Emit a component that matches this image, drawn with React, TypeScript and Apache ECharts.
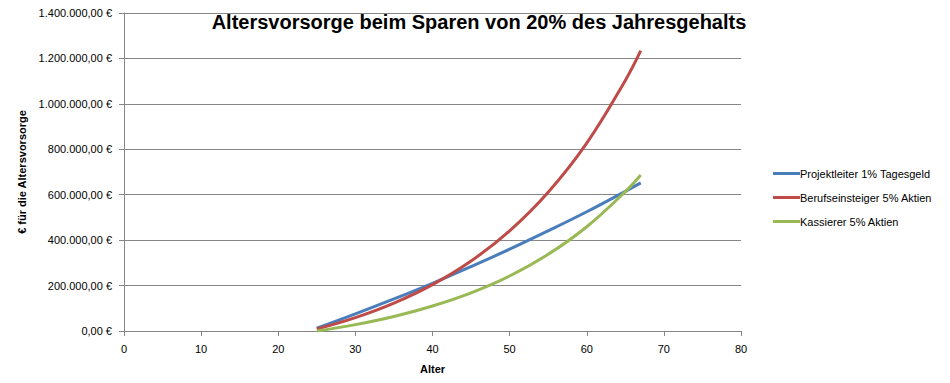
import React, { useEffect, useRef } from "react";
import * as echarts from "echarts";

const ages = [25, 30, 35, 40, 45, 50, 55, 60, 65, 67];
const projektleiter = [12000, 75000, 141000, 210000, 283500, 360000, 441000, 525000, 615000, 652000];
const berufseinsteiger = [8600, 58700, 122600, 204000, 308000, 441000, 611000, 827000, 1103000, 1234000];
const kassierer = [0, 28000, 63900, 110000, 168000, 242000, 337500, 459000, 613700, 687000];

const seriesNames = [
  "Projektleiter 1% Tagesgeld",
  "Berufseinsteiger 5% Aktien",
  "Kassierer 5% Aktien",
];
const colors = ["#4A7EBB", "#BE4B48", "#98B954"];

const fmtEuro = (v: number) => {
  const int = Math.round(v).toString().replace(/\B(?=(\d{3})+(?!\d))/g, ".");
  return int + ",00 €";
};

export default function App() {
  const ref = useRef<HTMLDivElement>(null);
  useEffect(() => {
    document.body.style.margin = "0";
    const chart = echarts.init(ref.current!, null, { renderer: "svg" });
    const font = "'Liberation Sans', Arial, sans-serif";
    const allData = [projektleiter, berufseinsteiger, kassierer];
    chart.setOption({
      animation: false,
      backgroundColor: "#ffffff",
      title: {
        text: "Altersvorsorge beim Sparen von 20% des Jahresgehalts",
        left: 474,
        textAlign: "center",
        top: 7,
        textStyle: { fontFamily: font, fontWeight: "bold", fontSize: 20, color: "#000" },
      },
      legend: {
        orient: "vertical",
        left: 768,
        top: 162,
        itemWidth: 27,
        itemHeight: 3,
        itemGap: 11,
        icon: "rect",
        textStyle: { fontFamily: font, fontSize: 11, color: "#000", padding: [0, 0, 0, -5], lineHeight: 13 },
        data: seriesNames,
      },
      grid: { left: 124, right: 209, top: 13, bottom: 52 },
      xAxis: {
        type: "value",
        min: 0,
        max: 80,
        interval: 10,
        name: "Alter",
        nameLocation: "middle",
        nameGap: 32,
        nameTextStyle: { fontFamily: font, fontWeight: "bold", fontSize: 11, color: "#000" },
        axisLine: { lineStyle: { color: "#868686", width: 1 } },
        axisTick: { show: true, length: 5, lineStyle: { color: "#868686" } },
        axisLabel: { fontFamily: font, fontSize: 11, color: "#000", margin: 12 },
        splitLine: { show: false },
      },
      yAxis: {
        type: "value",
        min: 0,
        max: 1400000,
        interval: 200000,
        name: "€ für die Altersvorsorge",
        nameLocation: "middle",
        nameGap: 96,
        nameTextStyle: { fontFamily: font, fontWeight: "bold", fontSize: 11, color: "#000" },
        axisLine: { show: true, lineStyle: { color: "#868686", width: 1 } },
        axisTick: { show: true, length: 5, lineStyle: { color: "#868686" } },
        axisLabel: { fontFamily: font, fontSize: 11, color: "#000", margin: 12, formatter: fmtEuro },
        splitLine: { show: true, lineStyle: { color: "#868686", width: 1 } },
      },
      series: allData.map((d, i) => ({
        name: seriesNames[i],
        type: "line",
        smooth: 0.4,
        showSymbol: false,
        symbol: "none",
        color: colors[i],
        lineStyle: { color: colors[i], width: 3 },
        data: ages.map((a, j) => [a, d[j]]),
      })),
    });
    return () => chart.dispose();
  }, []);
  return <div ref={ref} style={{ width: 950, height: 383 }} />;
}
